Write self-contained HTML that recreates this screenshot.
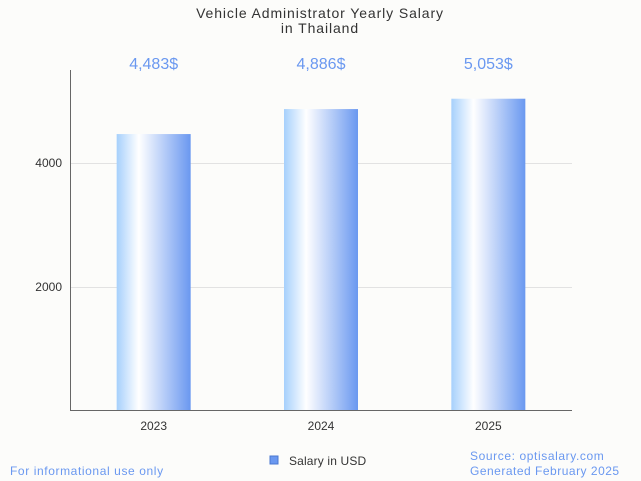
<!DOCTYPE html>
<html><head><meta charset="utf-8"><style>
body{margin:0;background:#fcfcfa;font-family:"Liberation Sans",sans-serif;}
svg{display:block}
</style></head><body>
<svg width="641" height="481" viewBox="0 0 641 481">
<defs><linearGradient id="g" x1="0" x2="1" y1="0" y2="0">
<stop offset="0" stop-color="#a6d0fc"/><stop offset="0.3" stop-color="#ffffff"/><stop offset="1" stop-color="#6a98f0"/></linearGradient></defs>
<text x="320" y="18" text-anchor="middle" font-size="14" letter-spacing="0.9" fill="#333">Vehicle Administrator Yearly Salary</text>
<text x="320" y="33" text-anchor="middle" font-size="14" letter-spacing="0.9" fill="#333">in Thailand</text>
<g id="grid"></g><g id="bars"></g>
<line x1="70.5" y1="70" x2="70.5" y2="411" stroke="#666"/>
<line x1="70" y1="410.5" x2="572" y2="410.5" stroke="#666"/>
<text x="10" y="475" font-size="12" letter-spacing="0.6" fill="#6a98f0">For informational use only</text>
<rect x="270" y="456" width="8" height="8" fill="#6a98f0" stroke="#4a78d0"/>
<text x="289" y="465" font-size="12" letter-spacing="0.15" fill="#333">Salary in USD</text>
<text x="470" y="460" font-size="12" letter-spacing="0.6" fill="#6a98f0">Source: optisalary.com</text>
<text x="470" y="475" font-size="12" letter-spacing="0.5" fill="#6a98f0">Generated February 2025</text>
</svg>
<script>
const categories=["2023","2024","2025"];
const values=[4483,4886,5053];
const labels=["4,483$","4,886$","5,053$"];
const yTicks=[2000,4000];
const NS="http://www.w3.org/2000/svg";
const x0=70,x1=572,yb=411,scale=124/2000;
const y=v=>yb-v*scale;
const bw=(x1-x0)/categories.length;
const cx=i=>x0+bw*(i+0.5);
const grid=document.getElementById('grid'),bars=document.getElementById('bars');
function mk(t,a,p){const e=document.createElementNS(NS,t);for(const k in a)e.setAttribute(k,a[k]);p.appendChild(e);return e;}
yTicks.forEach(t=>{
const l=mk('line',{x1:x0,x2:x1,y1:y(t)+0.5,y2:y(t)+0.5,stroke:'#e2e2e2'},grid);


const tx=mk('text',{x:x0-8,y:y(t)+4,'text-anchor':'end','font-size':12,fill:'#333'},grid);
tx.textContent=t;


});
categories.forEach((c,i)=>{
const r=mk('rect',{x:cx(i)-37,y:y(values[i])+1,width:74,height:yb-y(values[i])-1,fill:'url(#g)'},bars);


const v=mk('text',{x:cx(i),y:69,'text-anchor':'middle','font-size':16,fill:'#6a98f0'},bars);
v.textContent=labels[i];


const xl=mk('text',{x:cx(i),y:430,'text-anchor':'middle','font-size':12,fill:'#333'},bars);
xl.textContent=c;


});
</script>
</body></html>
